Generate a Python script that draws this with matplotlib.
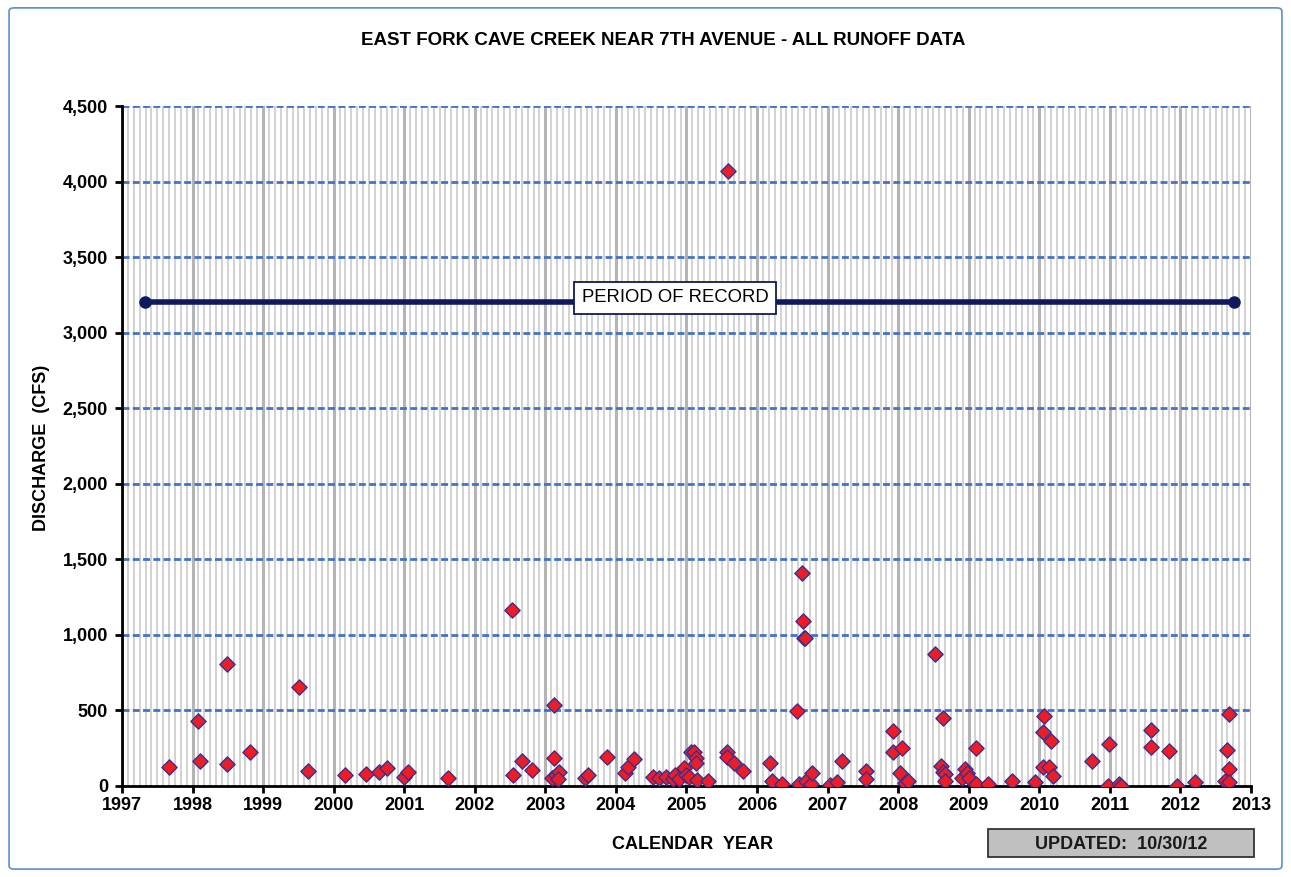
import matplotlib
matplotlib.use("Agg")
import matplotlib.pyplot as plt
from matplotlib.patches import FancyBboxPatch, Rectangle
import numpy as np

plt.rcParams['font.family'] = ['Liberation Sans', 'DejaVu Sans']

# runoff events: decimal year, discharge (cfs)
event_year = [
    1997.67, 1998.07, 1998.11, 1998.49, 1998.49, 1998.81, 1999.51, 1999.63,
    2000.16, 2000.46, 2000.64, 2000.76, 2001.00, 2001.05, 2001.62,
    2002.53, 2002.54, 2002.67, 2002.81, 2003.12, 2003.12, 2003.10, 2003.15,
    2003.20, 2003.18, 2003.56, 2003.60, 2003.87, 2004.13, 2004.17, 2004.25,
    2004.52, 2004.61, 2004.71, 2004.81, 2004.84, 2004.89, 2004.96, 2004.99,
    2005.03, 2005.06, 2005.10, 2005.13, 2005.13, 2005.15, 2005.30,
    2005.57, 2005.57, 2005.59, 2005.67, 2005.80, 2006.18, 2006.21, 2006.36,
    2006.56, 2006.60, 2006.64, 2006.65, 2006.66, 2006.68, 2006.70, 2006.76,
    2006.78, 2007.03, 2007.13, 2007.21, 2007.55, 2007.55, 2007.92, 2007.93,
    2008.02, 2008.06, 2008.09, 2008.14, 2008.52, 2008.60, 2008.63, 2008.64,
    2008.66, 2008.66, 2008.91, 2008.94, 2008.97, 2009.00, 2009.11, 2009.11,
    2009.27, 2009.62, 2009.94, 2010.05, 2010.05, 2010.06, 2010.14, 2010.16,
    2010.19, 2010.75, 2010.98, 2010.99, 2011.13, 2011.16, 2011.58, 2011.58,
    2011.84, 2011.95, 2012.21, 2012.63, 2012.66, 2012.69, 2012.69, 2012.69,
]
discharge = [
    128, 428, 165, 807, 148, 223, 657, 99,
    71, 81, 91, 117, 60, 91, 51,
    1167, 71, 165, 108, 534, 185, 55, 70,
    90, 45, 51, 73, 194, 88, 128, 177,
    62, 51, 62, 44, 73, 44, 117, 73,
    62, 227, 227, 183, 150, 40, 35,
    227, 194, 4070, 150, 99, 150, 35, 13,
    496, 13, 1412, 1092, 982, 977, 35, 13,
    84, 7, 24, 167, 101, 48, 364, 223,
    84, 249, 18, 35, 874, 132, 95, 448,
    79, 35, 51, 112, 84, 51, 249, 13,
    13, 35, 24, 355, 128, 465, 128, 300,
    68, 167, 2, 278, 13, 2, 371, 260,
    234, 2, 24, 35, 238, 477, 112, 24,
]

record_start = 1997.33
record_end = 2012.76
record_level = 3200

year_ticks = list(range(1997, 2014))
flow_ticks = list(range(0, 4501, 500))

fig = plt.figure(figsize=(12.91, 8.77), dpi=100)
ax = fig.add_axes([0.0945, 0.1038, 0.8745, 0.7753])

# outer border like the spreadsheet chart frame
frame = FancyBboxPatch((0.007, 0.009), 0.986, 0.982,
                       boxstyle="round,pad=0,rounding_size=0.004",
                       transform=fig.transFigure, fill=False,
                       edgecolor='#5b8fd0', linewidth=1.2)
fig.patches.append(frame)

ax.set_xlim(1997, 2013)
ax.set_ylim(0, 4500)

# monthly light lines, yearly a bit darker
months = np.arange(1997, 2013 + 1e-9, 1 / 12)
for m in months:
    ax.axvline(m, color='#cfcfcf', linewidth=1.3, zorder=0)
for y in year_ticks:
    ax.axvline(y, color='#b4b4b4', linewidth=2.2, zorder=0)
for v in flow_ticks[1:]:
    ax.axhline(v, color='#4472c4', linewidth=2, linestyle=(0, (2.5, 1.2)), zorder=1)

ax.plot([record_start, record_end], [record_level, record_level],
        color='#0f1a5e', linewidth=4, marker='o', markersize=8, zorder=3)
ax.text(2004.84, record_level + 30, 'PERIOD OF RECORD', ha='center', va='center',
        fontsize=13.3, zorder=4,
        bbox=dict(boxstyle='square,pad=0.42', facecolor='white',
                  edgecolor='#0f1a5e', linewidth=1.3))

ax.scatter(event_year, discharge, marker='D', s=60, facecolor='#ee1c25',
           edgecolor='#3c2e8c', linewidth=1.0, zorder=5)

ax.set_xticks(year_ticks)
ax.set_xticklabels([str(y) for y in year_ticks], fontsize=13, fontweight='bold')
ax.set_yticks(flow_ticks)
ax.set_yticklabels([f'{v:,}' for v in flow_ticks], fontsize=13, fontweight='bold')
ax.tick_params(axis='both', direction='out', length=5, width=2, color='black')
ax.tick_params(axis='x', pad=3)
ax.tick_params(axis='y', pad=5)

for s in ['top', 'right']:
    ax.spines[s].set_visible(False)
ax.spines['left'].set_linewidth(2)
ax.spines['bottom'].set_linewidth(2)

fig.text(0.5365, 0.0365, 'CALENDAR  YEAR', ha='center', va='center',
         fontsize=13, fontweight='bold')
fig.text(0.032, 0.489, 'DISCHARGE  (CFS)', ha='center', va='center',
         fontsize=13, fontweight='bold', rotation=90)

fig.text(0.514, 0.954, 'EAST FORK CAVE CREEK NEAR 7TH AVENUE - ALL RUNOFF DATA',
         ha='center', va='center', fontsize=13.5, fontweight='bold')

fig.patches.append(Rectangle((0.7653, 0.0228), 0.206, 0.0319,
                             transform=fig.transFigure, facecolor='#c0c0c0',
                             edgecolor='#333333', linewidth=1.3))
fig.text(0.8683, 0.0375, 'UPDATED:  10/30/12', ha='center', va='center',
         fontsize=13, fontweight='bold', color='#1a1a1a')

fig.savefig('out.png', dpi=100)
